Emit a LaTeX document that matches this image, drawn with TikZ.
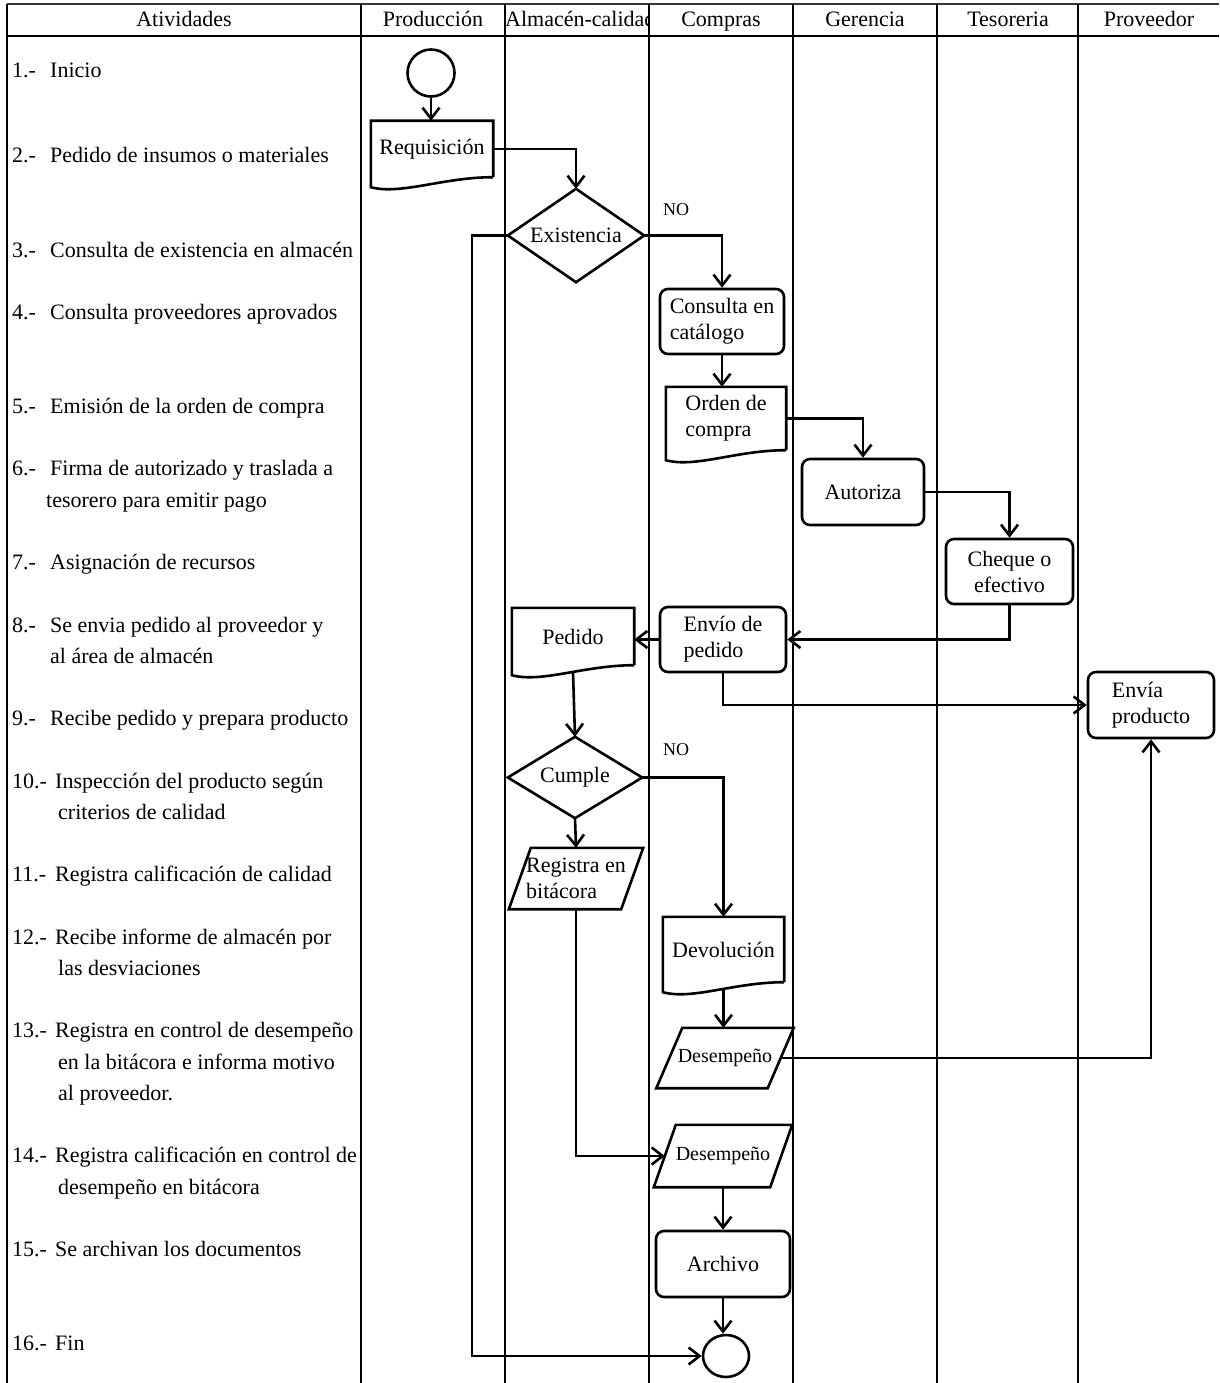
\documentclass[tikz,border=0pt]{standalone}
\usepackage{fontspec}
\setmainfont{Liberation Serif}
\usetikzlibrary{arrows.meta,shapes.geometric,calc}
\newcommand{\fs}[1]{\fontsize{#1}{26}\selectfont}
\newcommand{\paso}[2][38pt]{\makebox[#1][l]{#2}}

\begin{document}
\begin{tikzpicture}[x=1pt,y=-1pt,
  ln/.style={line width=2.6pt},
  e/.style={line width=2.6pt,-{Straight Barb[length=11pt,width=17pt]}},
  rbox/.style={draw,line width=2.6pt,rounded corners=8pt,inner sep=0pt,font=\fs{22},align=left},
  doc/.style={inner sep=0pt,font=\fs{22},align=left},
  dia/.style={inner sep=0pt,font=\fs{22}},
  dat/.style={inner sep=0pt,align=left},
  fila/.style={anchor=base west,inner sep=0pt,font=\fs{22}},
  col/.style={line width=1.2pt},
  cab/.style={anchor=base,font=\fs{22}}]
\useasboundingbox (0,0) rectangle (1219,1383);

% tabla
\draw[line width=1.6pt,black!80] (7,4) -- (1219,4);
\draw[col] (7,36) -- (1219,36);
\foreach \x in {7,361,505,649,793,937,1078} \draw[col] (\x,4) -- (\x,1383);

\node[cab] (h1) at (184,27) {Atividades};
\node[cab] (h2) at (433,27) {Producción};
\begin{scope}
\clip (505,4) rectangle (649,36);
\node[cab,anchor=base west,inner sep=0pt] (h3) at (505,27) {Almacén-calidad};
\end{scope}
\node[cab] (h4) at (721,27) {Compras};
\node[cab] (h5) at (865,27) {Gerencia};
\node[cab] (h6) at (1008,27) {Tesoreria};
\node[cab] (h7) at (1149,27) {Proveedor};

% actividades
\foreach \x/\y/\t [count=\i] in {
  12/71/{\paso{1.-}Inicio},
  12/156/{\paso{2.-}Pedido de insumos o materiales},
  12/250/{\paso{3.-}Consulta de existencia en almacén},
  12/312/{\paso{4.-}Consulta proveedores aprovados},
  12/406/{\paso{5.-}Emisión de la orden de compra},
  12/468/{\paso{6.-}Firma de autorizado y traslada a},
  46/500/{tesorero para emitir pago},
  12/562/{\paso{7.-}Asignación de recursos},
  12/625/{\paso{8.-}Se envia pedido al proveedor y},
  50/656/{al área de almacén},
  12/718/{\paso{9.-}Recibe pedido y prepara producto},
  12/781/{\paso[43pt]{10.-}Inspección del producto según},
  58/812/{criterios de calidad},
  12/874/{\paso[43pt]{11.-}Registra calificación de calidad},
  12/937/{\paso[43pt]{12.-}Recibe informe de almacén por},
  58/968/{las desviaciones},
  12/1030/{\paso[43pt]{13.-}Registra en control de desempeño},
  58/1062/{en la bitácora e informa motivo},
  58/1093/{al proveedor.},
  12/1155/{\paso[43pt]{14.-}Registra calificación en control de},
  58/1187/{desempeño en bitácora},
  12/1249/{\paso[43pt]{15.-}Se archivan los documentos},
  12/1343/{\paso[43pt]{16.-}Fin}}
  \node[fila] (p\i) at (\x,\y+7) {\t};

% flujo
\node[circle,draw,line width=2.6pt,minimum size=47pt,inner sep=0pt] (ini) at (431,73) {};
\node[doc,minimum width=122pt,minimum height=56pt] (req) at (432,149) {Requisición};
\node[dia,minimum width=136pt,minimum height=93pt] (ex) at (576,235.5) {Existencia};
\node[rbox,minimum width=124pt,minimum height=65pt] (cons) at (722,321.5) {Consulta en\\catálogo};
\node[doc,minimum width=120pt,minimum height=63pt] (ord) at (726,418.5) {Orden de\\compra};
\node[rbox,minimum width=122pt,minimum height=66pt] (aut) at (863,492) {Autoriza};
\node[rbox,minimum width=127pt,minimum height=65pt,align=center] (chq) at (1009.5,571.5) {Cheque o\\efectivo};
\node[rbox,minimum width=126pt,minimum height=65pt] (env) at (723,639.5) {Envío de\\pedido};
\node[doc,minimum width=122pt,minimum height=57pt] (ped) at (573,636.5) {Pedido};
\node[rbox,minimum width=126pt,minimum height=66pt] (prod) at (1151,705) {Envía\\producto};
\node[dia,minimum width=134pt,minimum height=81pt] (cum) at (575,777.5) {Cumple};
\node[dat,minimum width=112pt,minimum height=61pt,font=\fs{22}] (reg) at (576,878.5) {Registra en\\bitácora};
\node[doc,minimum width=121pt,minimum height=65pt] (dev) at (723.5,949.5) {Devolución};
\node[dat,minimum width=111pt,minimum height=60pt,font=\fs{20}] (des1) at (725,1058) {Desempeño};
\node[dat,minimum width=116pt,minimum height=62pt,font=\fs{20}] (des2) at (723,1156) {Desempeño};
\node[rbox,minimum width=134pt,minimum height=66pt] (arc) at (723,1264) {Archivo};
\node[ellipse,draw,line width=2.6pt,minimum width=46pt,minimum height=42pt,inner sep=0pt] (fin) at (726,1356) {};

\node[font=\fs{18}] (no1) at (676,210) {NO};
\node[font=\fs{18}] (no2) at (676,750) {NO};

% documentos, decisiones y datos
\foreach \n in {req,ord,ped,dev}
  \draw[ln] (\n.south east) -- (\n.north east) -- (\n.north west) -- ($(\n.south west)+(0,10)$)
    .. controls +(30,8) and +(-50,0) .. (\n.south east);
\foreach \n in {ex,cum}
  \draw[ln] (\n.north) -- (\n.east) -- (\n.south) -- (\n.west) -- cycle;
\foreach \n/\o in {reg/11,des1/13,des2/11}
  \draw[ln] ($(\n.south west)-(\o,0)$) -- ($(\n.north west)+(\o,0)$) -- ($(\n.north east)+(\o,0)$)
    -- ($(\n.south east)-(\o,0)$) -- cycle;

% conexiones
\draw[e] (ini.south) -- (ini.south |- req.north);
\draw[e] (req.east) -| (ex.north);
\draw[e] (ex.east) -| (cons.north);
\draw[e] (ex.west) -- ++(-36,0) |- (fin.west);
\draw[e] (cons.south) -- (cons.south |- ord.north);
\draw[e] (ord.east) -| (aut.north);
\draw[e] (aut.east) -| (chq.north);
\draw[e] (chq.south) |- (env.east);
\draw[e] (env.west) -- (env.west -| ped.east);
\draw[e] (env.south) |- (prod.west);
\draw[e] ($(ped.south)+(0,7)$) -- (cum.north);
\draw[e] (cum.east) -| (dev.north);
\draw[e] (cum.south) -- (reg.north);
\draw[e] (reg.south) |- (des2.west);
\draw[e] ($(dev.south)+(0,7)$) -- (dev.south |- des1.north);
\draw[e] (des1.east) -| (prod.south);
\draw[e] (des2.south) -- (des2.south |- arc.north);
\draw[e] (arc.south) -- (arc.south |- fin.north);
\end{tikzpicture}
\end{document}
